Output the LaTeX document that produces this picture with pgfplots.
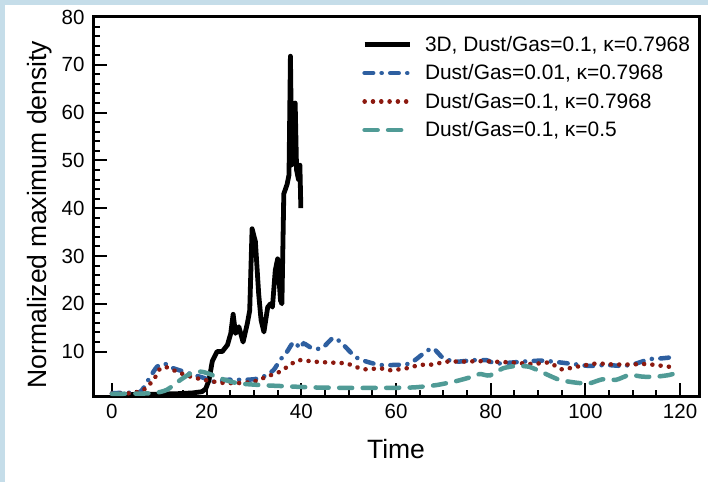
\documentclass[border=0pt]{standalone}
\usepackage{fontspec}
\setmainfont{Liberation Sans}
\usepackage{pgfplots}
\pgfplotsset{compat=1.18}
\definecolor{bgblue}{RGB}{197,221,233}
\definecolor{cblue}{RGB}{46,95,160}
\definecolor{cred}{RGB}{140,25,15}
\definecolor{cteal}{RGB}{80,155,150}
\begin{document}
\begin{tikzpicture}[x=1bp,y=1bp]
\fill[bgblue] (0,0) rectangle (708,482);
\fill[white] (5,0) rectangle (708,477);
\begin{axis}[
  at={(93bp,85bp)}, anchor=south west,
  scale only axis, width=606bp, height=380bp,
  xmin=-4, xmax=124, ymin=0.5, ymax=80,
  xtick={0,20,...,120}, ytick={10,20,...,80},
  minor x tick num=3, minor y tick num=4,
  xtick pos=left, ytick pos=left, tick align=inside,
  major tick length=14bp, minor tick length=7bp,
  every tick/.style={black, line width=2bp},
  axis line style={line width=3bp},
  /pgf/number format/assume math mode=true,
  tick label style={font=\fontsize{20.5bp}{24bp}\selectfont},
  xticklabel style={yshift=-4bp},
  yticklabel style={xshift=-5bp},
  xlabel={Time}, ylabel={Normalized maximum density},
  label style={font=\fontsize{26.5bp}{30bp}\selectfont},
  xlabel style={at={(axis description cs:0.5,-0.137)}, anchor=center},
  ylabel style={at={(axis description cs:-0.0875,0.48)}, anchor=center, rotate=0},
  legend style={draw=none, fill=none, at={(axis description cs:0.439,0.960)}, anchor=north west,
    font=\fontsize{20.9bp}{24bp}\selectfont, row sep=7.8bp,
    /tikz/every odd column/.append style={column sep=11bp}},
  legend cell align=left,
  legend image code/.code={\draw[#1] (0bp,0bp) -- (45bp,0bp);},
]
\addplot[black, line width=4.8bp, line join=round] coordinates {
(0,1) (5,1) (10,1.1) (14,1.2) (17,1.35) (19,1.6) (19.8,2.2) (20.5,4) (21.2,8) (22.2,10) (23.3,10)
(24.4,11.4) (25.1,13.8) (25.6,17.8) (26.1,13.8) (26.8,15.2) (27.7,12) (28.6,15.9) (29.1,18.6)
(29.6,35.7) (30.3,33) (31,22) (31.5,16.6) (32.1,14.1) (32.9,19.3) (33.5,20) (33.9,19.3)
(34.5,27) (35,29.4) (35.6,20.7) (35.9,20) (36.3,43) (37,45) (37.4,47) (37.7,71.8) (38.0,49)
(38.4,50) (38.7,62) (39.0,48) (39.4,46) (39.7,49) (39.9,40)};
\addlegendentry{3D, Dust/Gas=0.1, κ=0.7968}
\addplot[cblue, line width=4.5bp, line cap=round, smooth, tension=0.4,
  dash pattern=on 8.5bp off 8.5bp on 0.1bp off 8.5bp] coordinates {
(0,1.3) (3,1.4) (6,1.6) (8.1,4.75) (9.5,6.8) (11,7.5) (13,6.5) (15.2,5.8) (17.3,5.1) (19.4,4.5)
(21.5,3.7) (24.3,4.1) (27.1,4.1) (29.9,4.2) (32,4.75) (34.1,6.1) (35.5,8.2) (37,10) (38.4,12)
(39.8,10.7) (40.5,11.7) (42.3,10.7) (44.4,10.7) (46.8,12.9) (48.9,11.4) (51.4,8.9) (53.8,7.9)
(56.6,7.2) (59.4,7.2) (62.9,7.5) (65.8,9.6) (67.8,10.7) (70,8.6) (72.8,7.9) (76.3,8.2) (79.1,8.2)
(81.2,7.5) (86.8,7.9) (91,8.1) (96.6,7.5) (100.8,7) (104.4,7.2) (107.9,7) (110.7,7.5) (113.5,8.4)
(116.3,8.6) (119.1,8.9)};
\addlegendentry{Dust/Gas=0.01, κ=0.7968}
\addplot[cred, line width=4.5bp, line cap=round, smooth, tension=0.4,
  dash pattern=on 0.1bp off 8.2bp] coordinates {
(0,1.2) (4,1.3) (6.7,2) (8.8,4.1) (10.2,6.5) (11.6,6.7) (13.7,5.8) (16.6,4.75) (19.4,4.1)
(22.9,3.5) (26.4,3.4) (29.9,3.7) (32.7,4.75) (35.5,5.8) (37,6.8) (39.4,8.2) (42.6,7.9) (46.1,7.7)
(49.6,7.5) (53.1,6.3) (56.6,6.5) (58.7,6.1) (62.2,6.5) (65,7.2) (67.8,7.3) (70.7,7.9) (74.2,7.9)
(77.7,8) (80.5,7.9) (84.7,7.7) (88.9,7.4) (92.4,7.7) (94.9,6.3) (98,6.8) (102.3,7.5) (105.8,7.3)
(109.3,7.3) (112.8,7.4) (116.3,7) (118.7,6.7)};
\addlegendentry{Dust/Gas=0.1, κ=0.7968}
\addplot[cteal, line width=4.5bp, line cap=round, smooth, tension=0.4,
  dash pattern=on 13bp off 10.5bp] coordinates {
(0,1.15) (4,1.2) (8.8,1.3) (11.6,2) (14.5,4.1) (16.6,5.4) (18.7,5.8) (20.4,5.4) (22.9,4.4)
(26.4,3.4) (31.3,3.0) (35.5,2.8) (42.6,2.5) (49.6,2.4) (56.6,2.4) (63.6,2.5) (68.6,3) (72.8,3.85)
(75.6,4.6) (77.7,5.3) (79.8,5.0) (82.6,6.5) (85.4,7) (88.2,6.8) (91,5.6) (94.5,4.1) (98,3.5)
(100.8,3.35) (103.6,4.2) (106.5,4.1) (109.3,5.1) (112.1,4.75) (114.9,4.75) (117.7,5.1) (119.4,5.6)};
\addlegendentry{Dust/Gas=0.1, κ=0.5}
\end{axis}
\pgfresetboundingbox
\useasboundingbox (0,0) rectangle (708,482);
\end{tikzpicture}
\end{document}
